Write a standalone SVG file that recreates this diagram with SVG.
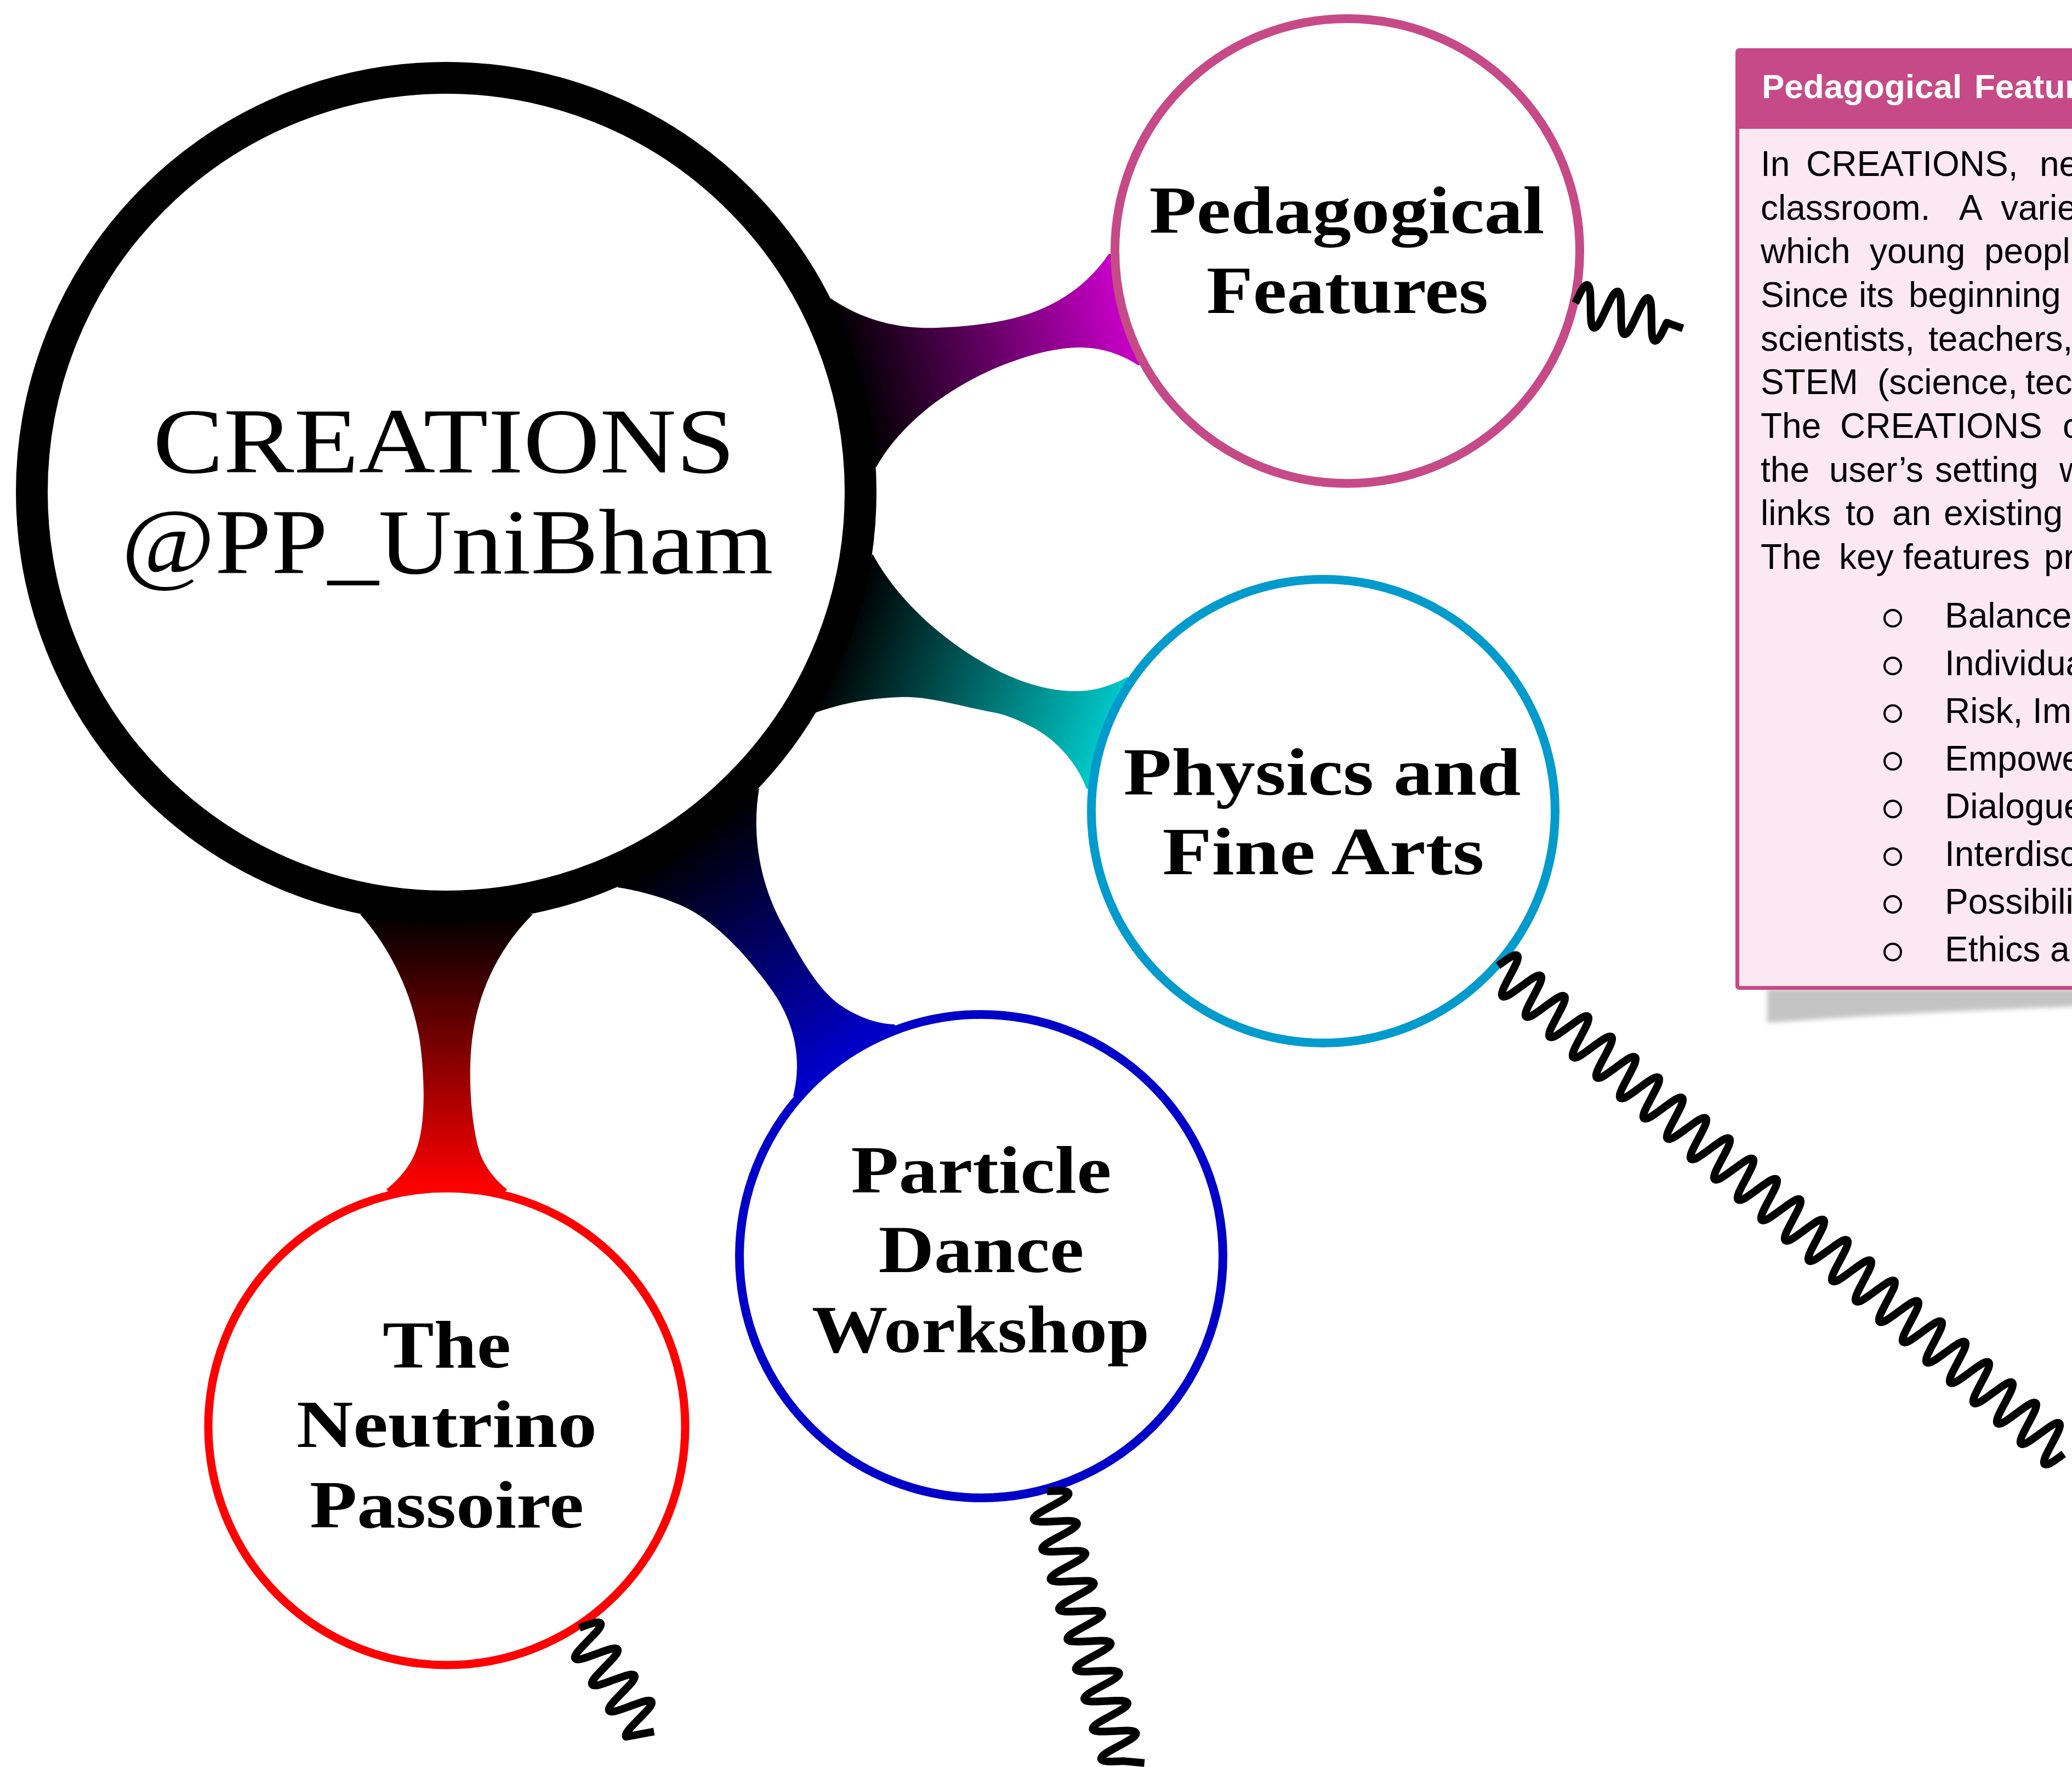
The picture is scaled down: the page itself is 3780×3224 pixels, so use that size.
<svg xmlns="http://www.w3.org/2000/svg" width="3780" height="3224" viewBox="0 0 3780 3224">
  <defs>
    <style>
      .ring { fill: #fff; }
      .label { font-family: "Liberation Serif", "Times New Roman", serif; font-weight: bold; font-size: 122px; text-anchor: middle; fill: #000; }
      .root-label { font-family: "Liberation Serif", "Times New Roman", serif; font-size: 169px; text-anchor: middle; fill: #000; }
      .snake { fill: none; stroke: #000; stroke-width: 14; stroke-linejoin: round; stroke-linecap: butt; }
      .body { font-family: "Liberation Sans", Arial, sans-serif; font-size: 64px; fill: #000; }
      .head { font-family: "Liberation Sans", Arial, sans-serif; font-size: 62px; font-weight: bold; fill: #fff; }
      .bullet { fill: none; stroke: #000; stroke-width: 4; }
    </style>
    <linearGradient id="g-ped" gradientUnits="userSpaceOnUse" x1="1556" y1="698" x2="2050" y2="565">
      <stop offset="0" stop-color="#000"/><stop offset="1" stop-color="#c800c8"/>
    </linearGradient>
    <linearGradient id="g-phy" gradientUnits="userSpaceOnUse" x1="1537" y1="1156" x2="2020" y2="1337">
      <stop offset="0" stop-color="#000"/><stop offset="1" stop-color="#00c8c8"/>
    </linearGradient>
    <linearGradient id="g-par" gradientUnits="userSpaceOnUse" x1="1255" y1="1528" x2="1539" y2="1935">
      <stop offset="0" stop-color="#000"/><stop offset="1" stop-color="#0000cc"/>
    </linearGradient>
    <linearGradient id="g-neu" gradientUnits="userSpaceOnUse" x1="815" y1="1668" x2="815" y2="2170">
      <stop offset="0" stop-color="#000"/><stop offset="1" stop-color="#ff0000"/>
    </linearGradient>
    <filter id="soft" x="-10%" y="-50%" width="120%" height="200%">
      <feGaussianBlur stdDeviation="4"/>
    </filter>
  </defs>

  <rect width="3780" height="3224" fill="#fff"/>

  <!-- tapered bars from the root to each child -->
  <g id="connectors">
    <path id="conn-pedagogical" fill="url(#g-ped)" d="M1515,544 C1580,588 1645,600 1710,598 C1765,596 1810,590 1848,581 C1925,562 1985,520 2023,463 L2070,470 L2100,650 L2077,667 C2045,645 2005,633 1965,634 C1915,636 1870,650 1820,670 C1730,708 1645,770 1598,853 Z"/>
    <path id="conn-physics" fill="url(#g-phy)" d="M1592,1011 C1640,1100 1730,1178 1825,1226 C1880,1252 1925,1262 1968,1261 C2000,1260 2030,1250 2057,1235 L2090,1290 L2020,1440 L1982,1439 C1968,1398 1930,1350 1880,1325 C1850,1310 1830,1302 1802,1298 C1740,1285 1690,1270 1641,1272 C1580,1274 1530,1285 1483,1302 Z"/>
    <path id="conn-particle" fill="url(#g-par)" d="M1385,1438 C1372,1515 1382,1605 1429,1690 C1460,1748 1490,1800 1525,1828 C1560,1855 1600,1868 1631,1869 L1670,1900 L1480,2010 L1447,2000 C1462,1940 1455,1870 1404,1801 C1360,1740 1300,1675 1238,1650 C1200,1634 1160,1624 1126,1619 Z"/>
    <path id="conn-neutrino" fill="url(#g-neu)" d="M657,1668 C712,1730 752,1812 766,1900 C776,1975 776,2055 759,2099 C750,2125 730,2150 705,2170 L740,2210 L890,2210 L925,2170 C900,2150 882,2125 874,2099 C857,2040 854,1950 862,1891 C872,1815 905,1735 972,1668 Z"/>
  </g>

  <g id="node-creations">
    <circle class="ring" cx="814" cy="898" r="756" stroke="#000" stroke-width="58"/>
    <text class="root-label" x="810" y="862" textLength="1062" lengthAdjust="spacingAndGlyphs">CREATIONS</text>
    <text class="root-label" x="816" y="1046" textLength="1189" lengthAdjust="spacingAndGlyphs">@PP_UniBham</text>
  </g>

  <g id="node-pedagogical">
    <circle class="ring" cx="2458" cy="458" r="424" stroke="#c64a87" stroke-width="16"/>
    <text class="label" x="2457" y="425" textLength="721" lengthAdjust="spacingAndGlyphs">Pedagogical</text>
    <text class="label" x="2458" y="571" textLength="514" lengthAdjust="spacingAndGlyphs">Features</text>
  </g>

  <g id="node-physics">
    <circle class="ring" cx="2414" cy="1480" r="423" stroke="#009bcd" stroke-width="16"/>
    <text class="label" x="2412" y="1450" textLength="725" lengthAdjust="spacingAndGlyphs">Physics and</text>
    <text class="label" x="2414" y="1595" textLength="587" lengthAdjust="spacingAndGlyphs">Fine Arts</text>
  </g>

  <g id="node-particle">
    <circle class="ring" cx="1790" cy="2292" r="441" stroke="#0000c8" stroke-width="16"/>
    <text class="label" x="1790" y="2176" textLength="475" lengthAdjust="spacingAndGlyphs">Particle</text>
    <text class="label" x="1790" y="2321" textLength="375" lengthAdjust="spacingAndGlyphs">Dance</text>
    <text class="label" x="1789" y="2467" textLength="616" lengthAdjust="spacingAndGlyphs">Workshop</text>
  </g>

  <g id="node-neutrino">
    <circle class="ring" cx="815" cy="2603" r="435" stroke="#ff0000" stroke-width="15"/>
    <text class="label" x="815" y="2495" textLength="234" lengthAdjust="spacingAndGlyphs">The</text>
    <text class="label" x="815" y="2640" textLength="548" lengthAdjust="spacingAndGlyphs">Neutrino</text>
    <text class="label" x="815" y="2787" textLength="500" lengthAdjust="spacingAndGlyphs">Passoire</text>
  </g>

  <!-- wavy leads leaving the child nodes -->
  <g id="snake-links">
    <path class="snake" transform="translate(2874,553) rotate(12.1)" d="M0,0 c4.26,-18.5 7.81,-37 14.2,-37 c6.39,0 9.94,18.5 14.2,37 c4.26,18.5 7.81,37 14.2,37 c6.39,0 9.94,-18.5 14.2,-37 c4.26,-18.5 7.81,-37 14.2,-37 c6.39,0 9.94,18.5 14.2,37 c4.26,18.5 7.81,37 14.2,37 c6.39,0 9.94,-18.5 14.2,-37 c4.26,-18.5 7.81,-37 14.2,-37 c6.39,0 9.94,18.5 14.2,37 c4.26,18.5 7.81,37 14.2,37 c6.39,0 9.94,-18.5 14.2,-37 l31,4"/>
    <path class="snake" transform="translate(2733,1762) rotate(40.8)" d="M0,0 c4.26,-18.5 7.81,-37 14.2,-37 c6.39,0 9.94,18.5 14.2,37 c4.26,18.5 7.81,37 14.2,37 c6.39,0 9.94,-18.5 14.2,-37 c4.26,-18.5 7.81,-37 14.2,-37 c6.39,0 9.94,18.5 14.2,37 c4.26,18.5 7.81,37 14.2,37 c6.39,0 9.94,-18.5 14.2,-37 c4.26,-18.5 7.81,-37 14.2,-37 c6.39,0 9.94,18.5 14.2,37 c4.26,18.5 7.81,37 14.2,37 c6.39,0 9.94,-18.5 14.2,-37 c4.26,-18.5 7.81,-37 14.2,-37 c6.39,0 9.94,18.5 14.2,37 c4.26,18.5 7.81,37 14.2,37 c6.39,0 9.94,-18.5 14.2,-37 c4.26,-18.5 7.81,-37 14.2,-37 c6.39,0 9.94,18.5 14.2,37 c4.26,18.5 7.81,37 14.2,37 c6.39,0 9.94,-18.5 14.2,-37 c4.26,-18.5 7.81,-37 14.2,-37 c6.39,0 9.94,18.5 14.2,37 c4.26,18.5 7.81,37 14.2,37 c6.39,0 9.94,-18.5 14.2,-37 c4.26,-18.5 7.81,-37 14.2,-37 c6.39,0 9.94,18.5 14.2,37 c4.26,18.5 7.81,37 14.2,37 c6.39,0 9.94,-18.5 14.2,-37 c4.26,-18.5 7.81,-37 14.2,-37 c6.39,0 9.94,18.5 14.2,37 c4.26,18.5 7.81,37 14.2,37 c6.39,0 9.94,-18.5 14.2,-37 c4.26,-18.5 7.81,-37 14.2,-37 c6.39,0 9.94,18.5 14.2,37 c4.26,18.5 7.81,37 14.2,37 c6.39,0 9.94,-18.5 14.2,-37 c4.26,-18.5 7.81,-37 14.2,-37 c6.39,0 9.94,18.5 14.2,37 c4.26,18.5 7.81,37 14.2,37 c6.39,0 9.94,-18.5 14.2,-37 c4.26,-18.5 7.81,-37 14.2,-37 c6.39,0 9.94,18.5 14.2,37 c4.26,18.5 7.81,37 14.2,37 c6.39,0 9.94,-18.5 14.2,-37 c4.26,-18.5 7.81,-37 14.2,-37 c6.39,0 9.94,18.5 14.2,37 c4.26,18.5 7.81,37 14.2,37 c6.39,0 9.94,-18.5 14.2,-37 c4.26,-18.5 7.81,-37 14.2,-37 c6.39,0 9.94,18.5 14.2,37 c4.26,18.5 7.81,37 14.2,37 c6.39,0 9.94,-18.5 14.2,-37 c4.26,-18.5 7.81,-37 14.2,-37 c6.39,0 9.94,18.5 14.2,37 c4.26,18.5 7.81,37 14.2,37 c6.39,0 9.94,-18.5 14.2,-37 c4.26,-18.5 7.81,-37 14.2,-37 c6.39,0 9.94,18.5 14.2,37 c4.26,18.5 7.81,37 14.2,37 c6.39,0 9.94,-18.5 14.2,-37 c4.26,-18.5 7.81,-37 14.2,-37 c6.39,0 9.94,18.5 14.2,37 c4.26,18.5 7.81,37 14.2,37 c6.39,0 9.94,-18.5 14.2,-37 c4.26,-18.5 7.81,-37 14.2,-37 c6.39,0 9.94,18.5 14.2,37 c4.26,18.5 7.81,37 14.2,37 c6.39,0 9.94,-18.5 14.2,-37 c4.26,-18.5 7.81,-37 14.2,-37 c6.39,0 9.94,18.5 14.2,37 c4.26,18.5 7.81,37 14.2,37 c6.39,0 9.94,-18.5 14.2,-37 c4.26,-18.5 7.81,-37 14.2,-37 c6.39,0 9.94,18.5 14.2,37 c4.26,18.5 7.81,37 14.2,37 c6.39,0 9.94,-18.5 14.2,-37 c4.26,-18.5 7.81,-37 14.2,-37 c6.39,0 9.94,18.5 14.2,37 c4.26,18.5 7.81,37 14.2,37 c6.39,0 9.94,-18.5 14.2,-37 c4.26,-18.5 7.81,-37 14.2,-37 c6.39,0 9.94,18.5 14.2,37 c4.26,18.5 7.81,37 14.2,37 c6.39,0 9.94,-18.5 14.2,-37 c4.26,-18.5 7.81,-37 14.2,-37 c6.39,0 9.94,18.5 14.2,37 c4.26,18.5 7.81,37 14.2,37 c6.39,0 9.94,-18.5 14.2,-37 c4.26,-18.5 7.81,-37 14.2,-37 c6.39,0 9.94,18.5 14.2,37 c4.26,18.5 7.81,37 14.2,37 c6.39,0 9.94,-18.5 14.2,-37 c4.26,-18.5 7.81,-37 14.2,-37 c6.39,0 9.94,18.5 14.2,37 c4.26,18.5 7.81,37 14.2,37 c6.39,0 9.94,-18.5 14.2,-37"/>
    <path class="snake" transform="translate(1910,2721) rotate(74.3)" d="M0,0 c4.26,-18.5 7.81,-37 14.2,-37 c6.39,0 9.94,18.5 14.2,37 c4.26,18.5 7.81,37 14.2,37 c6.39,0 9.94,-18.5 14.2,-37 c4.26,-18.5 7.81,-37 14.2,-37 c6.39,0 9.94,18.5 14.2,37 c4.26,18.5 7.81,37 14.2,37 c6.39,0 9.94,-18.5 14.2,-37 c4.26,-18.5 7.81,-37 14.2,-37 c6.39,0 9.94,18.5 14.2,37 c4.26,18.5 7.81,37 14.2,37 c6.39,0 9.94,-18.5 14.2,-37 c4.26,-18.5 7.81,-37 14.2,-37 c6.39,0 9.94,18.5 14.2,37 c4.26,18.5 7.81,37 14.2,37 c6.39,0 9.94,-18.5 14.2,-37 c4.26,-18.5 7.81,-37 14.2,-37 c6.39,0 9.94,18.5 14.2,37 c4.26,18.5 7.81,37 14.2,37 c6.39,0 9.94,-18.5 14.2,-37 c4.26,-18.5 7.81,-37 14.2,-37 c6.39,0 9.94,18.5 14.2,37 c4.26,18.5 7.81,37 14.2,37 c6.39,0 9.94,-18.5 14.2,-37 c4.26,-18.5 7.81,-37 14.2,-37 c6.39,0 9.94,18.5 14.2,37 c4.26,18.5 7.81,37 14.2,37 c6.39,0 9.94,-18.5 14.2,-37 c4.26,-18.5 7.81,-37 14.2,-37 c6.39,0 9.94,18.5 14.2,37 c4.26,18.5 7.81,37 14.2,37 c6.39,0 9.94,-18.5 14.2,-37 c4.26,-18.5 7.81,-37 14.2,-37 c6.39,0 9.94,18.5 14.2,37 c4.26,18.5 7.81,37 14.2,37 c6.39,0 9.94,-18.5 14.2,-37 l14.2,-37"/>
    <path class="snake" transform="translate(1057,2970) rotate(57)" d="M0,0 c4.26,-18.5 7.81,-37 14.2,-37 c6.39,0 9.94,18.5 14.2,37 c4.26,18.5 7.81,37 14.2,37 c6.39,0 9.94,-18.5 14.2,-37 c4.26,-18.5 7.81,-37 14.2,-37 c6.39,0 9.94,18.5 14.2,37 c4.26,18.5 7.81,37 14.2,37 c6.39,0 9.94,-18.5 14.2,-37 c4.26,-18.5 7.81,-37 14.2,-37 c6.39,0 9.94,18.5 14.2,37 c4.26,18.5 7.81,37 14.2,37 c6.39,0 9.94,-18.5 14.2,-37 c4.26,-18.5 7.81,-37 14.2,-37 c6.39,0 9.94,18.5 14.2,37 c4.26,18.5 7.81,37 14.2,37 l20,-48"/>
  </g>

  <!-- information panel on the right -->
  <g id="panel-pedagogical-features">
    <path d="M3224,1804 L3800,1804 L3800,1836 Q3500,1846 3224,1866 Z" fill="#c4c4c4" filter="url(#soft)"/>
    <rect x="3166" y="88" width="700" height="1718" rx="7" fill="#c64a87"/>
    <rect x="3173" y="235" width="700" height="1564" fill="#fce8f0"/>
    <text class="head" y="179"><tspan x="3214">Pedagogical</tspan><tspan x="3602">Features</tspan></text>

    <text class="body" y="321"><tspan x="3212">In</tspan><tspan x="3295">CREATIONS,</tspan><tspan x="3721">ne</tspan></text>
    <text class="body" y="401"><tspan x="3212">classroom.</tspan><tspan x="3574">A</tspan><tspan x="3650">varie</tspan></text>
    <text class="body" y="480"><tspan x="3212">which</tspan><tspan x="3411">young</tspan><tspan x="3620">peopl</tspan></text>
    <text class="body" y="560"><tspan x="3212">Since</tspan><tspan x="3391">its</tspan><tspan x="3482">beginning</tspan></text>
    <text class="body" y="640"><tspan x="3212">scientists,</tspan><tspan x="3518">teachers,</tspan></text>
    <text class="body" y="719"><tspan x="3212">STEM</tspan><tspan x="3425">(science,</tspan><tspan x="3695">tec</tspan></text>
    <text class="body" y="799"><tspan x="3212">The</tspan><tspan x="3357">CREATIONS</tspan><tspan x="3763">c</tspan></text>
    <text class="body" y="879"><tspan x="3212">the</tspan><tspan x="3337">user’s</tspan><tspan x="3530">setting</tspan><tspan x="3757">w</tspan></text>
    <text class="body" y="958"><tspan x="3212">links</tspan><tspan x="3367">to</tspan><tspan x="3452">an</tspan><tspan x="3546">existing</tspan></text>
    <text class="body" y="1038"><tspan x="3212">The</tspan><tspan x="3355">key</tspan><tspan x="3472">features</tspan><tspan x="3729">pr</tspan></text>

    <circle class="bullet" cx="3453" cy="1128" r="15"/>
    <circle class="bullet" cx="3453" cy="1215" r="15"/>
    <circle class="bullet" cx="3453" cy="1302" r="15"/>
    <circle class="bullet" cx="3453" cy="1389" r="15"/>
    <circle class="bullet" cx="3453" cy="1476" r="15"/>
    <circle class="bullet" cx="3453" cy="1563" r="15"/>
    <circle class="bullet" cx="3453" cy="1650" r="15"/>
    <circle class="bullet" cx="3453" cy="1737" r="15"/>
    <text class="body" x="3548" y="1145">Balance</text>
    <text class="body" x="3548" y="1232">Individua</text>
    <text class="body" x="3548" y="1319">Risk, Im</text>
    <text class="body" x="3548" y="1406">Empowe</text>
    <text class="body" x="3548" y="1493">Dialogue</text>
    <text class="body" x="3548" y="1580">Interdisc</text>
    <text class="body" x="3548" y="1667">Possibili</text>
    <text class="body" x="3548" y="1754">Ethics a</text>
  </g>
</svg>
